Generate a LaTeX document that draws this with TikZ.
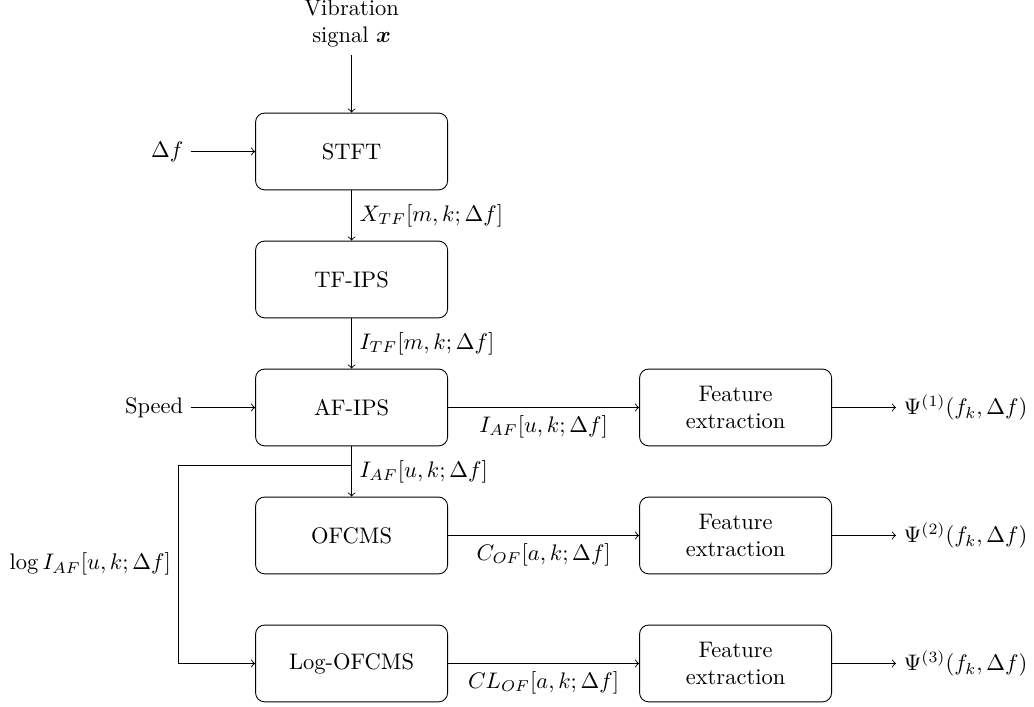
\documentclass[tikz,border=0pt]{standalone}
\usepackage{amsmath}
\usetikzlibrary{positioning}
\begin{document}
\begin{tikzpicture}[
  blk/.style={draw, rounded corners, minimum width=3cm, minimum height=1.2cm, align=center},
  arr/.style={->}
]
\useasboundingbox (-5.494,-8.680) rectangle (10.663,2.367);
% blocks
\node[blk] (stft) at (0,0) {STFT};
\node[blk] (tfips) at (0,-2) {TF-IPS};
\node[blk] (afips) at (0,-4) {AF-IPS};
\node[blk] (ofcms) at (0,-6) {OFCMS};
\node[blk] (logofcms) at (0,-8) {Log-OFCMS};
\node[blk] (fe1) at (6,-4) {Feature\\extraction};
\node[blk] (fe2) at (6,-6) {Feature\\extraction};
\node[blk] (fe3) at (6,-8) {Feature\\extraction};
% inputs and outputs
\node[align=center, anchor=south] (vib) at (0,1.5) {Vibration\\signal $\boldsymbol{x}$};
\node[left=1cm of stft] (df) {$\Delta f$};
\node[left=1cm of afips] (speed) {Speed};
\node[right=1cm of fe1] (psi1) {$\Psi^{(1)}(f_k,\Delta f)$};
\node[right=1cm of fe2] (psi2) {$\Psi^{(2)}(f_k,\Delta f)$};
\node[right=1cm of fe3] (psi3) {$\Psi^{(3)}(f_k,\Delta f)$};
% branch coordinates
\coordinate (br) at (0,-4.9);
\coordinate (brl) at (-2.7,-4.9);
\coordinate (brc) at (-2.7,-8);
% connectors
\draw[arr] (vib) -- (stft);
\draw[arr] (df) -- (stft);
\draw[arr] (stft) -- node[right] {$X_{TF}[m,k;\Delta f]$} (tfips);
\draw[arr] (tfips) -- node[right] {$I_{TF}[m,k;\Delta f]$} (afips);
\draw[arr] (speed) -- (afips);
\draw[arr] (afips) -- node[below] {$I_{AF}[u,k;\Delta f]$} (fe1);
\draw[arr] (afips) -- node[right] {$I_{AF}[u,k;\Delta f]$} (ofcms);
\draw[arr] (ofcms) -- node[below] {$C_{OF}[a,k;\Delta f]$} (fe2);
\draw[arr] (logofcms) -- node[below] {$CL_{OF}[a,k;\Delta f]$} (fe3);
\draw[arr] (br) -- (brl) -- node[left] {$\log I_{AF}[u,k;\Delta f]$} (brc) -- (logofcms.west);
\draw[arr] (fe1) -- (psi1);
\draw[arr] (fe2) -- (psi2);
\draw[arr] (fe3) -- (psi3);
\end{tikzpicture}
\end{document}
